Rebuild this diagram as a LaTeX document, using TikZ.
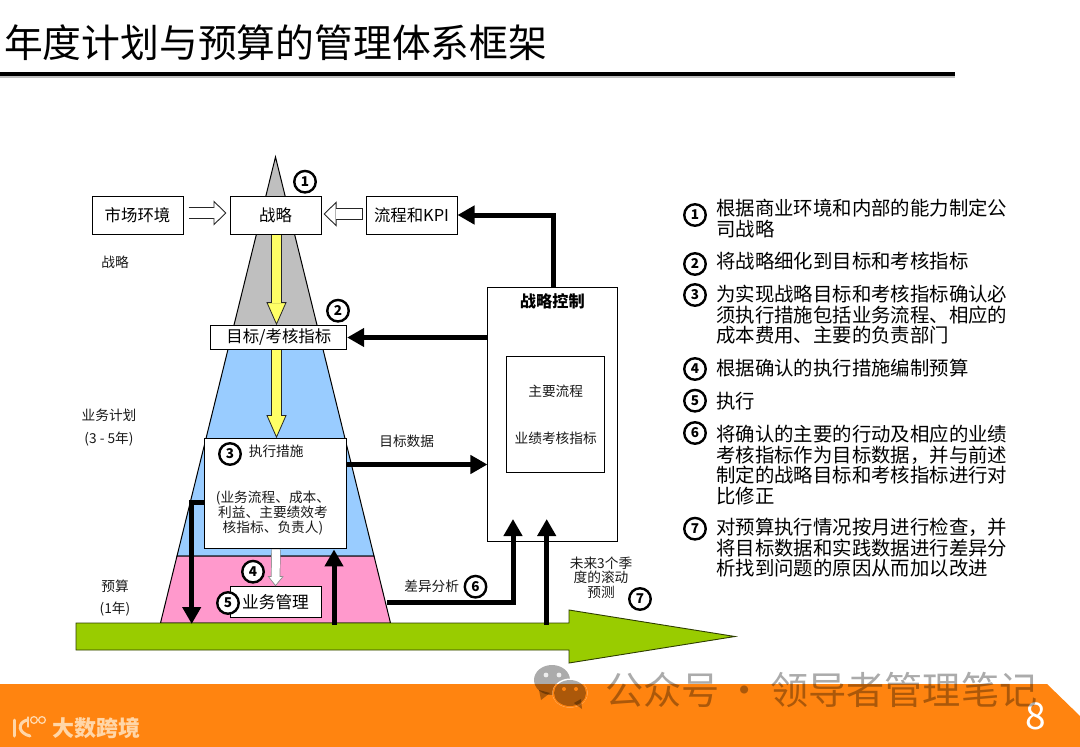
\documentclass[tikz,border=0pt]{standalone}
\usepackage{fontspec}
\setmainfont{Noto Sans CJK SC}
\usetikzlibrary{arrows.meta}

\definecolor{cGrey}{HTML}{BFBFBF}
\definecolor{cBlue}{HTML}{99CCFF}
\definecolor{cPink}{HTML}{FF99CC}
\definecolor{cYellow}{HTML}{FFFF66}
\definecolor{cGreen}{HTML}{99CC00}
\definecolor{cOrange}{HTML}{FF8410}
\definecolor{cLogo}{HTML}{FFD6A8}

\newcommand{\fs}[1]{\fontsize{#1}{#1}\selectfont}

\begin{document}
\begin{tikzpicture}[
  x=1pt, y=-1pt,
  box/.style={draw, fill=white, line width=1pt, inner sep=0pt, align=center, font=\fs{16.4}},
  lbl/.style={inner sep=0pt, align=center, font=\fs{13.7}, text=black!90},
  num/.style={draw, circle, fill=white, line width=2.4pt, minimum size=21.5pt, inner sep=0pt, font=\fs{13.5}\bfseries},
  item/.style={inner sep=0pt, anchor=west, align=left, font=\fontsize{19.4}{20.5}\selectfont, text=black},
  arr/.style={-{Triangle[length=17pt,width=18pt]}, line width=5pt},
  hollow/.style={draw=black!85, line width=12.4pt, -{Triangle[length=13pt,width=25pt,fill=white,line width=.9pt]},
    postaction={draw=white, line width=10.6pt, -, shorten >=12pt, shorten <=.9pt}},
  yarr/.style={draw=black!85, line width=10.4pt, -{Triangle[length=23pt,width=20pt,fill=cYellow,line width=.8pt]},
    postaction={draw=cYellow, line width=8.8pt, -, shorten >=22pt}},
  warr/.style={draw=black!45, line width=9.4pt, -{Triangle[length=10pt,width=16pt,fill=white,line width=.7pt]},
    postaction={draw=white, line width=8pt, -, shorten >=9pt}},
  layer/.style={draw=black, line width=1pt},
]
  \useasboundingbox (0,0) rectangle (1080,747);

  % --- Footer ---
  \fill[cOrange] (0,684) -- (1047,684) -- (1080,716) -- (1080,747) -- (0,747) -- cycle;

  % --- Title ---
  \node[inner sep=0pt, anchor=west, font=\fs{38.8}] (title) at (4,43) {年度计划与预算的管理体系框架};
  \fill[black!25] (0,76) rectangle (955,78);
  \fill[black] (0,72) rectangle (955,76);

  % --- Pyramid layers ---
  \filldraw[layer, fill=cGrey] (275.5,157) -- (320.2,338) -- (230.8,338) -- cycle;
  \filldraw[layer, fill=cBlue] (230.8,338) -- (320.2,338) -- (374,556) -- (177,556) -- cycle;
  \filldraw[layer, fill=cPink] (177,556) -- (374,556) -- (390.5,623) -- (160.5,623) -- cycle;

  % --- Time arrow ---
  \filldraw[draw=black!70!cGreen, line width=.9pt, fill=cGreen]
    (76,623) -- (569,623) -- (569,610) -- (735,636.5) -- (569,663) -- (569,650) -- (76,650) -- cycle;

  % --- Boxes ---
  \node[box, minimum width=91pt, minimum height=38pt] (boxMarket) at (137.5,215) {市场环境};
  \node[box, minimum width=91pt, minimum height=38pt] (boxStrategy) at (275.5,215) {战略};
  \node[box, minimum width=91pt, minimum height=38pt] (boxKpi) at (411.5,215) {流程和KPI};
  \node[box, minimum width=135.7pt, minimum height=23.6pt] (boxGoal) at (278.8,337.5) {目标/考核指标};
  \node[box, minimum width=141.7pt, minimum height=110.3pt] (boxAction) at (275.8,493.8) {};
  \node[box, minimum width=91pt, minimum height=31.3pt, font=\fs{16.7}] (boxManage) at (275.5,602.3) {业务管理};
  \node[box, minimum width=129.3pt, minimum height=254pt] (boxControl) at (552.6,414.7) {};
  \node[box, minimum width=97.3pt, minimum height=115.6pt] (boxCore) at (555.6,414.5) {};

  % --- Free ends of the connectors ---
  \coordinate (gapStart) at (387,602);
  \coordinate (gapEnd) at (513,519);
  \coordinate (fcStart) at (546.7,625);
  \coordinate (fcEnd) at (546.7,519);
  \coordinate (budgetEnd) at (191.7,624);
  \coordinate (backStart) at (334,625);
  \coordinate (ctrlTop) at (553,288);
  \coordinate (targetRow) at (0,464.5);
  \coordinate (budgetRow) at (0,502);
  \coordinate (yellowCol) at (276.5,0);

  % --- Hollow and yellow arrows ---
  \draw[hollow] ([shift={(5,-2)}]boxMarket.east) -- ([shift={(-3,-2)}]boxStrategy.west);
  \draw[hollow] ([shift={(-3,-1)}]boxKpi.west) -- ([shift={(2,-1)}]boxStrategy.east);
  \draw[yarr] (yellowCol |- boxStrategy.south) -- (yellowCol |- boxGoal.north);
  \draw[yarr] (yellowCol |- boxGoal.south) -- (yellowCol |- boxAction.north);
  \draw[warr] ([xshift=.2pt]boxAction.south) -- (boxManage.north);

  % --- Black arrows ---
  \draw[arr] (ctrlTop) |- (boxKpi.east);
  \draw[arr] (boxControl.west |- boxGoal) -- (boxGoal.east);
  \draw[arr] (boxAction.east |- targetRow) -- (boxControl.west |- targetRow);
  \draw[arr] (boxAction.west |- budgetRow) -| (budgetEnd);
  \draw[arr] (backStart) -- (backStart |- boxAction.south);
  \draw[arr] (gapStart) -| (gapEnd);
  \draw[arr] (fcStart) -- (fcEnd);

  % --- Texts inside the boxes ---
  \node[lbl] (txtAction) at (276.2,451.5) {执行措施};
  \node[lbl, font=\fontsize{13.7}{14.8}\selectfont] (txtActionSub) at (273,513) {(业务流程、成本、\\利益、主要绩效考\\核指标、负责人)};
  \node[lbl, font=\fs{16.2}\bfseries, text=black] (txtControl) at (552.3,301) {战略控制};
  \node[lbl] (txtFlow) at (555.7,391.5) {主要流程};
  \node[lbl] (txtIndex) at (555.7,438) {业绩考核指标};

  % --- Side labels ---
  \node[lbl] (lblStrategy) at (115,262) {战略};
  \node[lbl] (lblPlan) at (109,415.5) {业务计划};
  \node[lbl] (lblYears) at (109,439) {(3 - 5年)};
  \node[lbl] (lblBudget) at (115,586) {预算};
  \node[lbl] (lblYear) at (115,609) {(1年)};
  \node[lbl] (lblTarget) at (406.7,441.5) {目标数据};
  \node[lbl] (lblGap) at (431.7,586) {差异分析};
  \node[lbl, font=\fontsize{13.7}{14.5}\selectfont] (lblForecast) at (601,577.7) {未来3个季\\度的滚动\\预测};

  % --- Numbers on the diagram ---
  \node[num] (n1) at (305,181.7) {1};
  \node[num] (n2) at (338,310.7) {2};
  \node[num] (n3) at (230,454) {3};
  \node[num] (n4) at (253,571.7) {4};
  \node[num] (n5) at (228,603) {5};
  \node[num] (n6) at (475.5,586.7) {6};
  \node[num] (n7) at (640,599) {7};

  % --- Legend ---
  \node[num] (k1) at (695,215) {1};
  \node[num] (k2) at (695,264) {2};
  \node[num] (k3) at (695,295) {3};
  \node[num] (k4) at (695,369) {4};
  \node[num] (k5) at (695,400.7) {5};
  \node[num] (k6) at (695,433) {6};
  \node[num] (k7) at (695,528.7) {7};
  \node[item] (t1) at (716,218.5) {根据商业环境和内部的能力制定公\\司战略};
  \node[item] (t2) at (716,261.5) {将战略细化到目标和考核指标};
  \node[item] (t3) at (716,315) {为实现战略目标和考核指标确认必\\须执行措施包括业务流程、相应的\\成本费用、主要的负责部门};
  \node[item] (t4) at (716,368) {根据确认的执行措施编制预算};
  \node[item] (t5) at (716,400.7) {执行};
  \node[item] (t6) at (716,465) {将确认的主要的行动及相应的业绩\\考核指标作为目标数据，并与前述\\制定的战略目标和考核指标进行对\\比修正};
  \node[item] (t7) at (716,548) {对预算执行情况按月进行检查，并\\将目标数据和实践数据进行差异分\\析找到问题的原因从而加以改进};

  % --- Footer marks ---
  \node[inner sep=0pt, font=\fs{37}, text=white] (pageNo) at (1035.5,716) {8};
  \node[inner sep=0pt, anchor=west, font=\fs{22}\bfseries, text=cLogo] (logoText) at (52,728) {大数跨境};
  \begin{scope}[draw=cLogo, line width=3pt, line cap=round]
    \draw (14,720) -- (14,736);
    \draw (27,720) .. controls (17,723) and (18,733) .. (30,736);
    \draw[line width=1.3pt] (28,717) -- (28,727);
    \draw[line width=1.3pt] (34,720) circle (3.4pt);
    \draw[line width=1.3pt] (42,720) circle (3.4pt);
  \end{scope}

  % --- Watermark ---
  \begin{scope}[opacity=.33]
    \fill[black] (552,680) ellipse (18pt and 15pt);
    \fill[black] (539,690) -- (541,700) -- (550,693) -- cycle;
  \end{scope}
  \fill[white, opacity=.8] (546,675) circle (2.4pt) (559,675) circle (2.4pt);
  \fill[white] (570,693) ellipse (17.5pt and 14.5pt);
  \begin{scope}
    \clip (540,684) rectangle (600,720);
    \fill[cOrange] (570,693) ellipse (17.5pt and 14.5pt);
  \end{scope}
  \begin{scope}[opacity=.33]
    \fill[black] (570,693) ellipse (16pt and 13pt);
    \fill[black] (574,703) -- (582,709) -- (581,699) -- cycle;
  \end{scope}
  \fill[cOrange] (564,689) circle (2pt) (576,689) circle (2pt);
  \node[inner sep=0pt, anchor=west, font=\fs{38.2}, text=black, opacity=.33] (mark) at (605,690) {公众号\hspace{-2.5pt} · \hspace{-2.5pt}领导者管理笔记};

\end{tikzpicture}
\end{document}
